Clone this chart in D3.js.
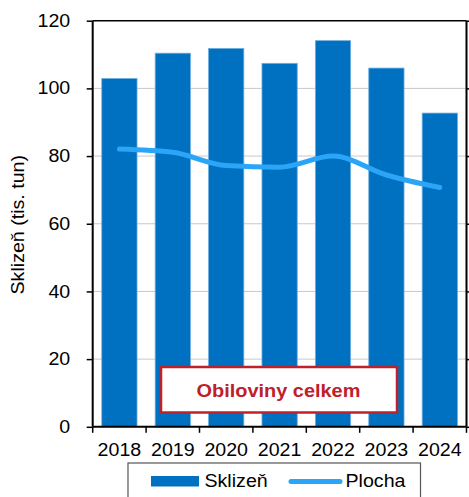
<!DOCTYPE html>
<html>
<head>
<meta charset="utf-8">
<script src="https://cdn.jsdelivr.net/npm/d3@7"></script>
<style>
  body { margin: 0; background: #fff; }
  text { font-family: "Liberation Sans", Arial, sans-serif; }
</style>
</head>
<body>
<svg width="469" height="497"></svg>
<script>
let years = ["2018", "2019", "2020", "2021", "2022", "2023", "2024"];
let sklizen = [102.9, 110.4, 111.8, 107.4, 114.1, 106.0, 92.7];
let plocha = [82.1, 81.1, 77.2, 76.7, 80.0, 74.4, 70.7];
let y_ticks = [0, 20, 40, 60, 80, 100, 120];

let plot_left = 92.7, plot_right = 466.5, plot_top = 20.7, plot_bottom = 426.8;
let font_size = 17.5, stretch_k = 1.12;

let svg = d3.select('svg');

// the reference text is a bit wider than plain Arial
function stretch(sel) {
    sel.each(function () {
        let w = this.getComputedTextLength();
        d3.select(this).attr('textLength', w * stretch_k).attr('lengthAdjust', 'spacingAndGlyphs');
    });
}

let x = d3.scaleBand()
    .domain(years)
    .range([plot_left, plot_right])
    .paddingInner(0.34)
    .paddingOuter(0.17);

let xb = d3.scaleBand().domain(years).range([plot_left, plot_right]);

let y = d3.scaleLinear()
    .domain([0, 120])
    .range([plot_bottom, plot_top]);

// gridlines
svg.append('g')
    .selectAll('line')
    .data(y_ticks.filter(function (d) { return d > 0 && d < 120; }))
    .join('line')
    .attr('x1', plot_left)
    .attr('x2', plot_right)
    .attr('y1', function (d) { return y(d); })
    .attr('y2', function (d) { return y(d); })
    .attr('stroke', '#c8c8c8')
    .attr('stroke-width', 1);

// bars
svg.append('g')
    .selectAll('rect')
    .data(sklizen)
    .join('rect')
    .attr('x', function (d, i) { return x(years[i]); })
    .attr('width', x.bandwidth())
    .attr('y', function (d) { return y(d); })
    .attr('height', function (d) { return y(0) - y(d); })
    .attr('fill', '#0070c0')
    .attr('stroke', '#6aaee0')
    .attr('stroke-width', 0.8);

// line
let line = d3.line()
    .x(function (d, i) { return xb(years[i]) + xb.bandwidth() / 2; })
    .y(function (d) { return y(d); })
    .curve(d3.curveMonotoneX);

svg.append('path')
    .datum(plocha)
    .attr('d', line)
    .attr('fill', 'none')
    .attr('stroke', '#2aa5f7')
    .attr('stroke-width', 5)
    .attr('stroke-linecap', 'round')
    .attr('stroke-linejoin', 'round');

// frame top
svg.append('line')
    .attr('x1', plot_left).attr('x2', plot_right)
    .attr('y1', plot_top).attr('y2', plot_top)
    .attr('stroke', '#000').attr('stroke-width', 1.5);

// left axis
let yAxis = svg.append('g')
    .attr('transform', 'translate(' + plot_left + ',0)')
    .call(d3.axisLeft(y).tickValues(y_ticks).tickSize(6).tickPadding(16.5));
yAxis.select('.domain').attr('stroke-width', 2).attr('d', 'M0,' + plot_top + 'V' + plot_bottom);
yAxis.selectAll('.tick line').attr('stroke-width', 1.5);
yAxis.selectAll('text').attr('font-size', font_size).attr('fill', '#000')
    .attr('font-family', '"Liberation Sans", Arial, sans-serif')
    .call(stretch);

// right axis
let yAxisR = svg.append('g')
    .attr('transform', 'translate(' + plot_right + ',0)')
    .call(d3.axisRight(y).tickValues(y_ticks).tickSize(4).tickFormat(''));
yAxisR.select('.domain').attr('stroke-width', 2).attr('d', 'M0,' + plot_top + 'V' + plot_bottom);
yAxisR.selectAll('.tick line').attr('stroke-width', 1.5);

// bottom axis
let xAxis = svg.append('g')
    .attr('transform', 'translate(0,' + plot_bottom + ')')
    .call(d3.axisBottom(xb).tickSize(0).tickPadding(16.5));
xAxis.select('.domain').attr('stroke-width', 2).attr('d', 'M' + plot_left + ',0H' + plot_right);
xAxis.selectAll('text').attr('font-size', font_size).attr('fill', '#000')
    .attr('font-family', '"Liberation Sans", Arial, sans-serif')
    .call(stretch);

svg.append('g')
    .selectAll('line')
    .data(years.concat(['end']))
    .join('line')
    .attr('x1', function (d, i) { return plot_left + i * xb.bandwidth(); })
    .attr('x2', function (d, i) { return plot_left + i * xb.bandwidth(); })
    .attr('y1', plot_bottom)
    .attr('y2', plot_bottom + 6)
    .attr('stroke', '#000')
    .attr('stroke-width', 1.5);

// y label
svg.append('text')
    .attr('transform', 'translate(23.5,' + ((plot_top + plot_bottom) / 2 + 1) + ') rotate(-90)')
    .attr('text-anchor', 'middle')
    .attr('font-size', font_size)
    .attr('fill', '#000')
    .text('Sklizeň (tis. tun)')
    .call(stretch);

// title box
svg.append('rect')
    .attr('x', 161).attr('y', 367)
    .attr('width', 236).attr('height', 45.5)
    .attr('fill', '#fff')
    .attr('stroke', '#c0202a')
    .attr('stroke-width', 2.5);
svg.append('text')
    .attr('x', 278.5).attr('y', 396.5)
    .attr('text-anchor', 'middle')
    .attr('font-size', 17.8)
    .attr('font-weight', 'bold')
    .attr('fill', '#c0202a')
    .text('Obiloviny celkem')
    .call(stretch);

// legend
svg.append('rect')
    .attr('x', 128).attr('y', 463)
    .attr('width', 292.5).attr('height', 50)
    .attr('fill', '#fff')
    .attr('stroke', '#555')
    .attr('stroke-width', 1.2);
svg.append('rect')
    .attr('x', 151).attr('y', 476)
    .attr('width', 48).attr('height', 10.5)
    .attr('fill', '#0070c0');
svg.append('text')
    .attr('x', 204.5).attr('y', 486.7)
    .attr('font-size', font_size)
    .attr('fill', '#000')
    .text('Sklizeň')
    .call(stretch);
svg.append('line')
    .attr('x1', 291).attr('x2', 340)
    .attr('y1', 481.5).attr('y2', 481.5)
    .attr('stroke', '#2aa5f7')
    .attr('stroke-width', 5)
    .attr('stroke-linecap', 'round');
svg.append('text')
    .attr('x', 345.5).attr('y', 486.7)
    .attr('font-size', font_size)
    .attr('fill', '#000')
    .text('Plocha')
    .call(stretch);
</script>
</body>
</html>
